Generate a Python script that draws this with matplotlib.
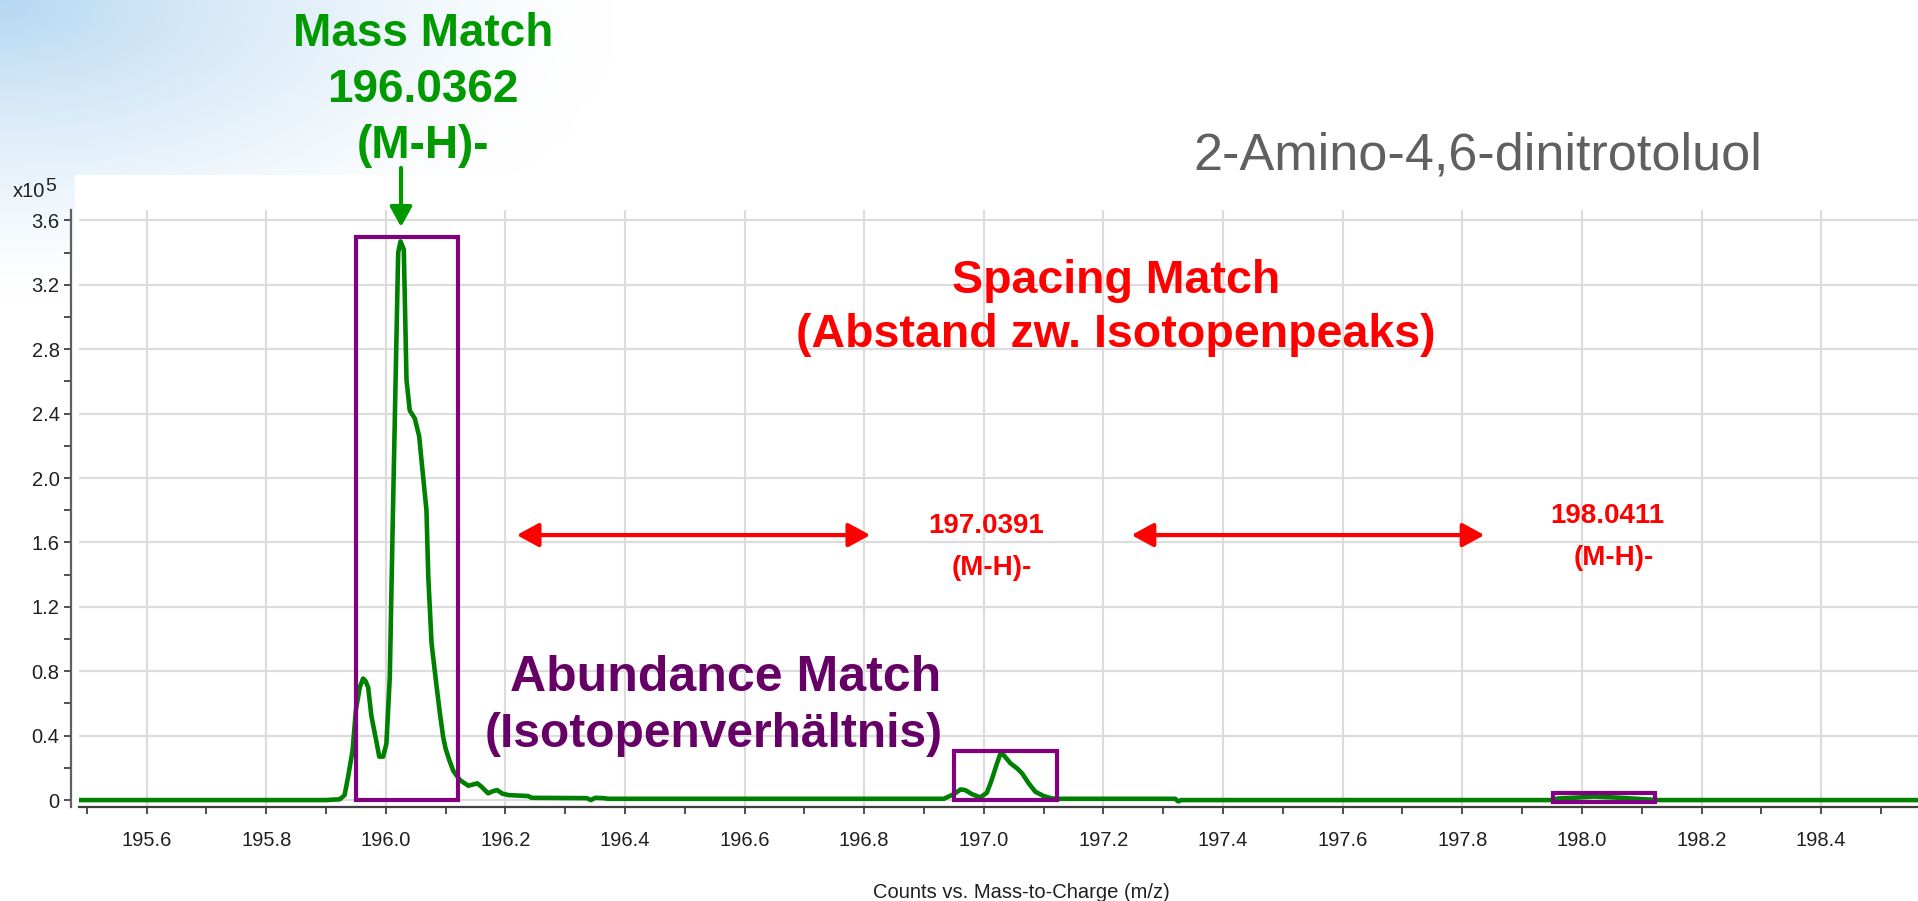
import numpy as np
import matplotlib
matplotlib.use("Agg")
import matplotlib.pyplot as plt
from matplotlib.patches import Rectangle

plt.rcParams['font.family'] = ['Liberation Sans', 'DejaVu Sans']

W, H = 1918, 901

# spectrum trace (m/z, counts in units of 1e5)
mz = [195.487, 195.900, 195.923, 195.931, 195.937, 195.9445, 195.950, 195.9565,
      195.962, 195.966, 195.9705, 195.976, 195.985, 195.989, 195.9955, 196.001,
      196.0067, 196.012, 196.0207, 196.0246, 196.0301, 196.0346, 196.040, 196.0485,
      196.0558, 196.0597, 196.068, 196.071, 196.0765, 196.0837, 196.0904, 196.096,
      196.100, 196.106, 196.113, 196.124, 196.138, 196.149, 196.153, 196.160,
      196.171, 196.179, 196.186, 196.195, 196.205, 196.238, 196.244, 196.336,
      196.343, 196.350, 196.364, 196.372, 196.900, 196.933, 196.950, 196.961,
      196.969, 196.980, 196.994, 197.005, 197.013, 197.022, 197.0275, 197.033,
      197.0446, 197.0556, 197.064, 197.075, 197.086, 197.100, 197.114, 197.125,
      197.320, 197.325, 197.330, 197.950, 197.960, 197.990, 198.020, 198.060,
      198.100, 198.130, 198.562]
counts = [0.0, 0.0, 0.005, 0.03, 0.145, 0.31, 0.56, 0.70,
          0.755, 0.74, 0.70, 0.52, 0.35, 0.27, 0.27, 0.35,
          0.766, 1.80, 3.40, 3.47, 3.42, 2.61, 2.42, 2.37,
          2.26, 2.11, 1.80, 1.39, 0.975, 0.745, 0.54, 0.39,
          0.32, 0.25, 0.18, 0.124, 0.089, 0.10, 0.104, 0.083,
          0.042, 0.055, 0.062, 0.04, 0.031, 0.025, 0.014, 0.012,
          0.0, 0.014, 0.012, 0.008, 0.008, 0.008, 0.037, 0.066,
          0.062, 0.037, 0.017, 0.045, 0.124, 0.228, 0.286, 0.28,
          0.228, 0.197, 0.166, 0.104, 0.052, 0.025, 0.01, 0.008,
          0.008, -0.008, 0.0, 0.0, 0.01, 0.015, 0.022, 0.015,
          0.006, 0.0, 0.0]

# isotope boxes
box_x0 = [195.950, 196.950, 197.952]
box_x1 = [196.120, 197.122, 198.123]
box_y0 = [0.0, 0.0, -0.015]
box_y1 = [3.50, 0.306, 0.041]

# spacing arrows
arrow_x0 = [196.219, 197.247]
arrow_x1 = [196.810, 197.837]
arrow_y = 1.646

yticks = [0, 0.4, 0.8, 1.2, 1.6, 2.0, 2.4, 2.8, 3.2, 3.6]
ytick_labels = ['0', '0.4', '0.8', '1.2', '1.6', '2.0', '2.4', '2.8', '3.2', '3.6']
xticks = [195.6, 195.8, 196.0, 196.2, 196.4, 196.6, 196.8, 197.0, 197.2, 197.4,
          197.6, 197.8, 198.0, 198.2, 198.4]
xtick_labels = ['195.6', '195.8', '196.0', '196.2', '196.4', '196.6', '196.8', '197.0',
                '197.2', '197.4', '197.6', '197.8', '198.0', '198.2', '198.4']


def fx(px):
    return px / W


def fy(py):
    return 1 - py / H


fig = plt.figure(figsize=(W / 100, H / 100), dpi=100)

# slide background: pale blue wash in the top-left corner
bg_ax = fig.add_axes([0, 0, 1, 1], zorder=0)
gx, gy = np.meshgrid(np.linspace(0, W, 192), np.linspace(0, H, 90))
t = np.clip(1 - np.sqrt((gx / 600) ** 2 + (gy / 290) ** 2), 0, 1) ** 1.3
blue = np.array([0.72, 0.85, 0.95])
img = np.ones((90, 192, 3)) * (1 - t[..., None]) + blue * t[..., None]
bg_ax.imshow(img, extent=[0, 1, 0, 1], aspect='auto', interpolation='bicubic')
bg_ax.axis('off')

fig.add_artist(Rectangle((fx(75), 0), 1 - fx(75), fy(175), transform=fig.transFigure,
                         fc='white', ec='none', zorder=0.5))

ax = fig.add_axes([fx(79), fy(807), 1 - fx(79), (807 - 210) / H], zorder=1)
ax.set_facecolor('white')
ax.plot(mz, counts, color='#008000', lw=3.3, solid_joinstyle='round', zorder=3)

for x0, x1, y0, y1 in zip(box_x0, box_x1, box_y0, box_y1):
    ax.add_patch(Rectangle((x0, y0), x1 - x0, y1 - y0, fill=False, ec='#800080',
                           lw=3.0, zorder=4))

for x0, x1 in zip(arrow_x0, arrow_x1):
    ax.annotate('', xy=(x1, arrow_y), xytext=(x0, arrow_y),
                arrowprops=dict(arrowstyle='<|-|>,head_length=0.55,head_width=0.3',
                                color='#ff0000', lw=3, mutation_scale=24,
                                shrinkA=0, shrinkB=0), zorder=5)

ax.set_xlim(195.487, 198.562)
ax.set_ylim(-0.043, 3.665)
ax.set_xticks(xticks)
ax.set_xticklabels(xtick_labels)
ax.set_xticks(np.arange(195.5, 198.55, 0.1), minor=True)
ax.set_yticks(yticks)
ax.set_yticklabels(ytick_labels)
ax.set_yticks(np.arange(0.2, 3.6, 0.4), minor=True)
ax.grid(True, which='major', color='#dcdcdc', lw=1.6, zorder=0)
ax.set_axisbelow(True)
for s in ['top', 'right']:
    ax.spines[s].set_visible(False)
ax.spines['left'].set_position(('outward', 6))
ax.spines['left'].set_color('#606060')
ax.spines['left'].set_linewidth(1.6)
ax.spines['bottom'].set_color('#404040')
ax.spines['bottom'].set_linewidth(1.6)
ax.tick_params(which='both', direction='out', length=5, width=1.3, color='#404040')
ax.tick_params(axis='x', labelsize=14.5, pad=12, labelcolor='#202020')
ax.tick_params(axis='y', labelsize=14.5, pad=3, labelcolor='#202020')

# labels and annotations
fig.text(fx(1021), fy(892), 'Counts vs. Mass-to-Charge (m/z)', ha='center', va='center',
         fontsize=14.5, color='#202020')
fig.text(fx(13), fy(197), 'x10', ha='left', va='baseline', fontsize=14.5, color='#202020')
fig.text(fx(45), fy(191), '5', ha='left', va='baseline', fontsize=14, color='#202020')

fig.text(fx(1478), fy(170), '2-Amino-4,6-dinitrotoluol', ha='center', va='baseline',
         fontsize=37.5, color='#606060')

green = '#009900'
for txt, base in [('Mass Match', 46), ('196.0362', 102), ('(M-H)-', 158)]:
    fig.text(fx(423), fy(base), txt, ha='center', va='baseline', fontsize=33,
             fontweight='bold', color=green)
ax.annotate('', xy=(fx(401), fy(227)), xytext=(fx(401), fy(168)),
            xycoords='figure fraction', textcoords='figure fraction',
            arrowprops=dict(arrowstyle='-|>,head_length=0.6,head_width=0.33',
                            color=green, lw=3, mutation_scale=20,
                            shrinkA=0, shrinkB=0), annotation_clip=False)

for txt, base in [('Spacing Match', 293), ('(Abstand zw. Isotopenpeaks)', 347)]:
    fig.text(fx(1116), fy(base), txt, ha='center', va='baseline', fontsize=33.5,
             fontweight='bold', color='#ff0000')

fig.text(fx(726), fy(691), 'Abundance Match', ha='center', va='baseline', fontsize=36,
         fontweight='bold', color='#660066')
fig.text(fx(714), fy(747), '(Isotopenverhältnis)', ha='center', va='baseline', fontsize=34.5,
         fontweight='bold', color='#660066')

for txt, cx, base in [('197.0391', 986, 533), ('(M-H)-', 992, 575),
                      ('198.0411', 1607, 523), ('(M-H)-', 1614, 565)]:
    fig.text(fx(cx), fy(base), txt, ha='center', va='baseline', fontsize=20,
             fontweight='bold', color='#ff0000')

fig.savefig('out.png', dpi=100)
